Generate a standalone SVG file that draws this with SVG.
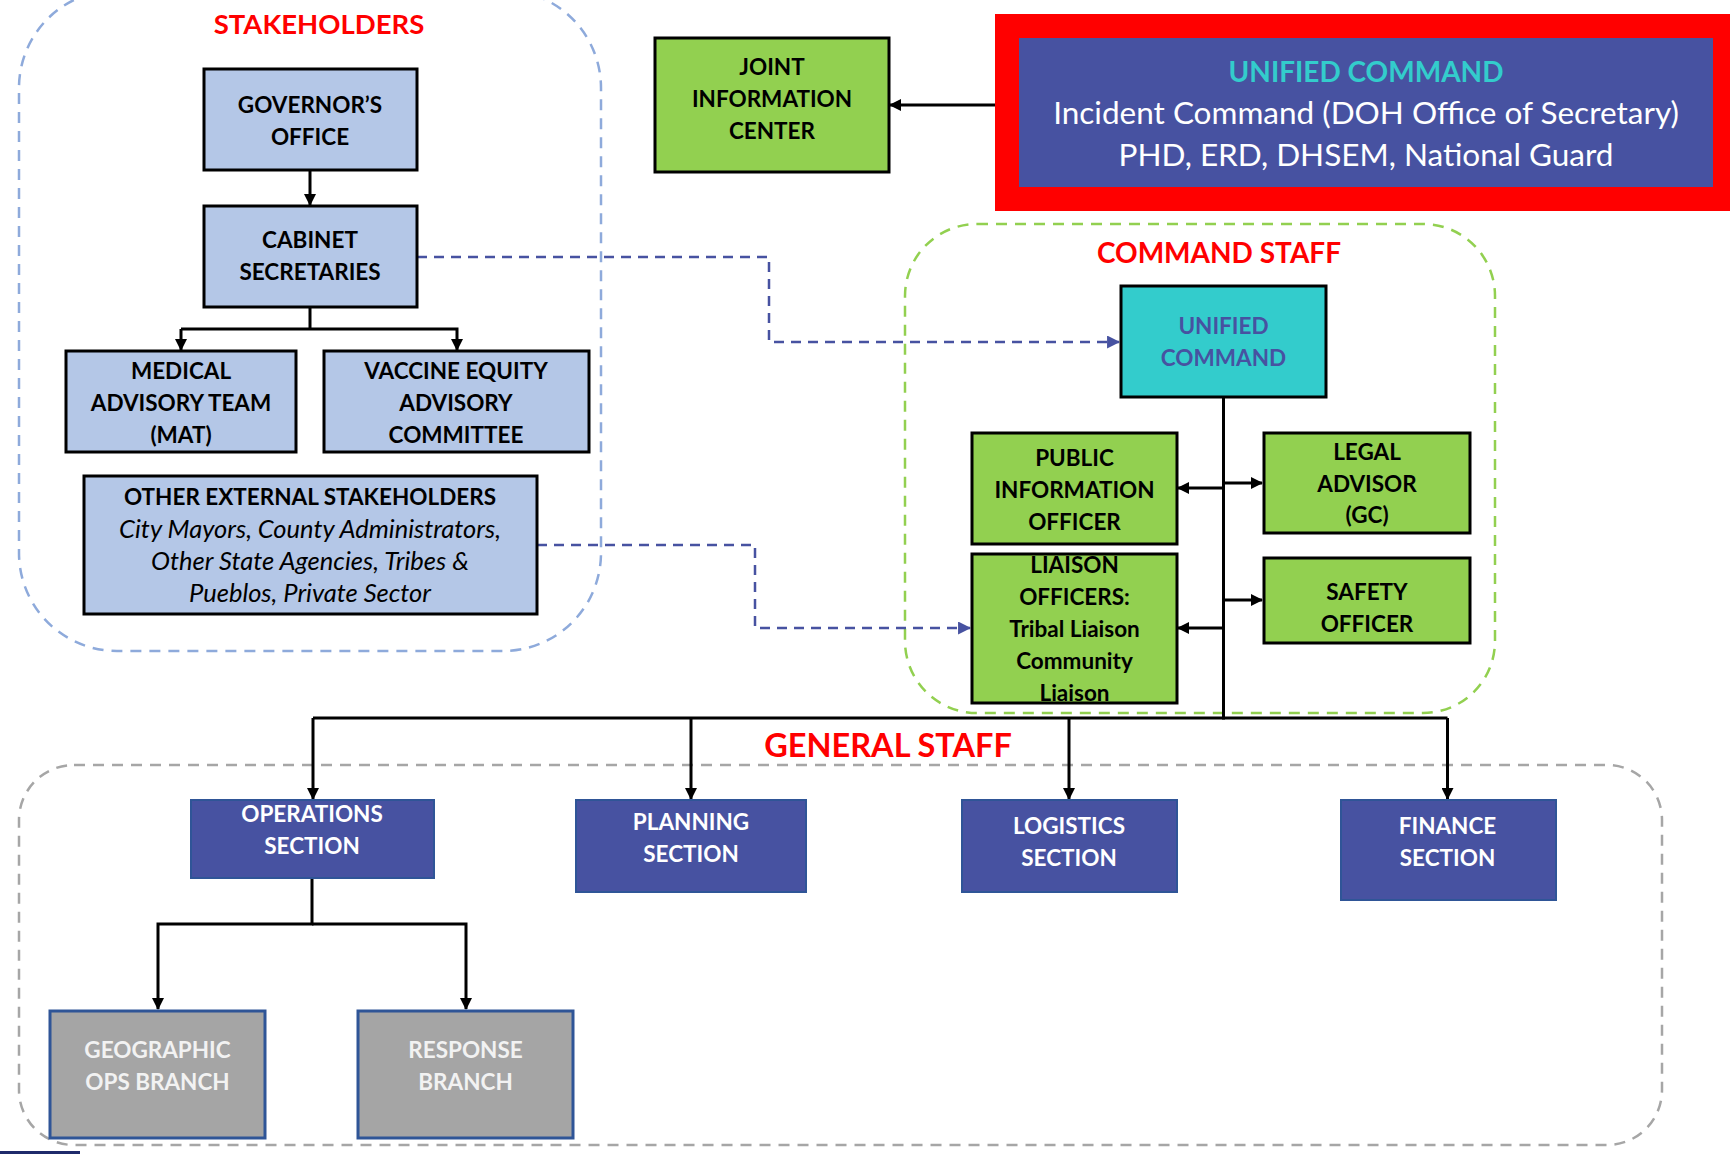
<svg xmlns="http://www.w3.org/2000/svg" width="1730" height="1154" viewBox="0 0 1730 1154">
<defs>
<style>
.b{font-family:Lato,"Open Sans","Liberation Sans",sans-serif;font-weight:bold;font-size:22.5px;text-anchor:middle;fill:#000}
.title{font-family:Lato,"Open Sans","Liberation Sans",sans-serif;font-weight:bold;text-anchor:middle;fill:#ff0000}
.it{font-family:Lato,"Open Sans","Liberation Sans",sans-serif;font-style:italic;font-size:25.5px;text-anchor:middle;fill:#000}
.big{font-family:Lato,"Open Sans","Liberation Sans",sans-serif;font-size:31.5px;text-anchor:middle;fill:#fff}
.lb{fill:#b4c7e7;stroke:#000;stroke-width:3}
.gr{fill:#92d050;stroke:#000;stroke-width:3}
.nv{fill:#4752a1;stroke:#2f5597;stroke-width:2}
.gy{fill:#a5a5a5;stroke:#2f5597;stroke-width:3}
.ln{fill:none;stroke:#000;stroke-width:3}
.dl{fill:none;stroke:#4752a1;stroke-width:2.5;stroke-dasharray:10 7}
.wt{fill:#fff}
.lt{fill:#f2f2f2}
.bt{fill:#4752a1}
</style>
<marker id="ah" viewBox="0 0 12 12" refX="11" refY="6" markerWidth="12" markerHeight="12" markerUnits="userSpaceOnUse" orient="auto">
<path d="M0,0 L12,6 L0,12 Z" fill="#000"/>
</marker>
<marker id="ab" viewBox="0 0 12 12" refX="11" refY="6" markerWidth="13" markerHeight="13" markerUnits="userSpaceOnUse" orient="auto">
<path d="M0,0 L12,6 L0,12 Z" fill="#4752a1"/>
</marker>
</defs>
<rect width="1730" height="1154" fill="#fff"/>

<g id="containers">
<rect x="19" y="-10" width="582" height="661" rx="98" ry="98" fill="none" stroke="#8eaadb" stroke-width="2.5" stroke-dasharray="11 8"/>
<rect x="905" y="224" width="590" height="489" rx="72" ry="72" fill="none" stroke="#92d050" stroke-width="2.5" stroke-dasharray="11 8"/>
<rect x="19" y="765" width="1643" height="380" rx="55" ry="55" fill="none" stroke="#a6a6a6" stroke-width="2.5" stroke-dasharray="11 8"/>
<text class="title" x="319" y="34" font-size="27.5">STAKEHOLDERS</text>
<text class="title" x="1219" y="263" font-size="28">COMMAND STAFF</text>
<text class="title" x="888" y="757" font-size="32.5">GENERAL STAFF</text>
</g>

<g id="connectors">
<line class="ln" x1="310" y1="170" x2="310" y2="205" marker-end="url(#ah)"/>
<polyline class="ln" points="310,307 310,329"/>
<polyline class="ln" points="181,329 457,329 457,350" marker-end="url(#ah)"/>
<line class="ln" x1="181" y1="329" x2="181" y2="350" marker-end="url(#ah)"/>
<line class="ln" x1="995" y1="105" x2="890" y2="105" marker-end="url(#ah)"/>
<polyline class="dl" points="417,257 769,257 769,342 1119,342" marker-end="url(#ab)"/>
<polyline class="dl" points="537,545 755,545 755,628 970,628" marker-end="url(#ab)"/>
<line class="ln" x1="1223.5" y1="397" x2="1223.5" y2="719.5"/>
<line class="ln" x1="1223.5" y1="488" x2="1178" y2="488" marker-end="url(#ah)"/>
<line class="ln" x1="1223.5" y1="483" x2="1262" y2="483" marker-end="url(#ah)"/>
<line class="ln" x1="1223.5" y1="600" x2="1262" y2="600" marker-end="url(#ah)"/>
<line class="ln" x1="1223.5" y1="628" x2="1178" y2="628" marker-end="url(#ah)"/>
<polyline class="ln" points="313,718 1447.5,718"/>
<line class="ln" x1="313" y1="718" x2="313" y2="799" marker-end="url(#ah)"/>
<line class="ln" x1="691" y1="718" x2="691" y2="799" marker-end="url(#ah)"/>
<line class="ln" x1="1069" y1="718" x2="1069" y2="799" marker-end="url(#ah)"/>
<line class="ln" x1="1447.5" y1="718" x2="1447.5" y2="799" marker-end="url(#ah)"/>
<polyline class="ln" points="312,878 312,924 158,924 158,1009" marker-end="url(#ah)"/>
<polyline class="ln" points="312,924 466,924 466,1009" marker-end="url(#ah)"/>
</g>

<g id="governors-office">
<rect class="lb" x="204" y="69" width="213" height="101"/>
<text class="b" x="310" y="113">GOVERNOR’S</text>
<text class="b" x="310" y="145">OFFICE</text>
</g>
<g id="cabinet-secretaries">
<rect class="lb" x="204" y="206" width="213" height="101"/>
<text class="b" x="310" y="248">CABINET</text>
<text class="b" x="310" y="280">SECRETARIES</text>
</g>
<g id="medical-advisory-team">
<rect class="lb" x="66" y="351" width="230" height="101"/>
<text class="b" x="181" y="379">MEDICAL</text>
<text class="b" x="181" y="411">ADVISORY TEAM</text>
<text class="b" x="181" y="443">(MAT)</text>
</g>
<g id="vaccine-equity">
<rect class="lb" x="324" y="351" width="265" height="101"/>
<text class="b" x="456" y="379">VACCINE EQUITY</text>
<text class="b" x="456" y="411">ADVISORY</text>
<text class="b" x="456" y="443">COMMITTEE</text>
</g>
<g id="other-external-stakeholders">
<rect class="lb" x="84" y="476" width="453" height="138"/>
<text class="b" x="310" y="505">OTHER EXTERNAL STAKEHOLDERS</text>
<text class="it" x="310" y="538">City Mayors, County Administrators,</text>
<text class="it" x="310" y="570">Other State Agencies, Tribes &amp;</text>
<text class="it" x="310" y="602">Pueblos, Private Sector</text>
</g>

<g id="joint-information-center">
<rect class="gr" x="655" y="38" width="234" height="134"/>
<text class="b" x="772" y="75">JOINT</text>
<text class="b" x="772" y="107">INFORMATION</text>
<text class="b" x="772" y="139">CENTER</text>
</g>

<g id="unified-command-main">
<rect x="995" y="14" width="740" height="197" fill="#ff0000"/>
<rect x="1019" y="38" width="694" height="149" fill="#4752a1"/>
<text x="1366" y="82" font-family="Lato,'Open Sans','Liberation Sans',sans-serif" font-weight="bold" font-size="28" text-anchor="middle" fill="#33cccc">UNIFIED COMMAND</text>
<text class="big" x="1366" y="124">Incident Command (DOH Office of Secretary)</text>
<text class="big" x="1366" y="166">PHD, ERD, DHSEM, National Guard</text>
</g>

<g id="unified-command">
<rect x="1121" y="286" width="205" height="111" fill="#33cccc" stroke="#000" stroke-width="3"/>
<text class="b bt" x="1223.5" y="334">UNIFIED</text>
<text class="b bt" x="1223.5" y="366">COMMAND</text>
</g>
<g id="public-information-officer">
<rect class="gr" x="972" y="433" width="205" height="111"/>
<text class="b" x="1074.5" y="466">PUBLIC</text>
<text class="b" x="1074.5" y="498">INFORMATION</text>
<text class="b" x="1074.5" y="530">OFFICER</text>
</g>
<g id="legal-advisor">
<rect class="gr" x="1264" y="433" width="206" height="100"/>
<text class="b" x="1367" y="460">LEGAL</text>
<text class="b" x="1367" y="492">ADVISOR</text>
<text class="b" x="1367" y="523">(GC)</text>
</g>
<g id="liaison-officers">
<rect class="gr" x="972" y="554" width="205" height="149"/>
<text class="b" x="1074.5" y="573">LIAISON</text>
<text class="b" x="1074.5" y="605">OFFICERS:</text>
<text class="b" x="1074.5" y="637" font-size="24">Tribal Liaison</text>
<text class="b" x="1074.5" y="669" font-size="24">Community</text>
<text class="b" x="1074.5" y="701" font-size="24">Liaison</text>
</g>
<g id="safety-officer">
<rect class="gr" x="1264" y="558" width="206" height="85"/>
<text class="b" x="1367" y="600">SAFETY</text>
<text class="b" x="1367" y="632">OFFICER</text>
</g>

<g id="operations-section">
<rect class="nv" x="191" y="800" width="243" height="78"/>
<text class="b wt" x="312" y="822">OPERATIONS</text>
<text class="b wt" x="312" y="854">SECTION</text>
</g>
<g id="planning-section">
<rect class="nv" x="576" y="800" width="230" height="92"/>
<text class="b wt" x="691" y="830">PLANNING</text>
<text class="b wt" x="691" y="862">SECTION</text>
</g>
<g id="logistics-section">
<rect class="nv" x="962" y="800" width="215" height="92"/>
<text class="b wt" x="1069" y="834">LOGISTICS</text>
<text class="b wt" x="1069" y="866">SECTION</text>
</g>
<g id="finance-section">
<rect class="nv" x="1341" y="800" width="215" height="100"/>
<text class="b wt" x="1447.5" y="834">FINANCE</text>
<text class="b wt" x="1447.5" y="866">SECTION</text>
</g>
<g id="geographic-ops-branch">
<rect class="gy" x="50" y="1011" width="215" height="127"/>
<text class="b lt" x="157.5" y="1058">GEOGRAPHIC</text>
<text class="b lt" x="157.5" y="1090">OPS BRANCH</text>
</g>
<g id="response-branch">
<rect class="gy" x="358" y="1011" width="215" height="127"/>
<text class="b lt" x="465.5" y="1058">RESPONSE</text>
<text class="b lt" x="465.5" y="1090">BRANCH</text>
</g>

<rect x="0" y="1151" width="80" height="3" fill="#1f2a6b"/>
</svg>
